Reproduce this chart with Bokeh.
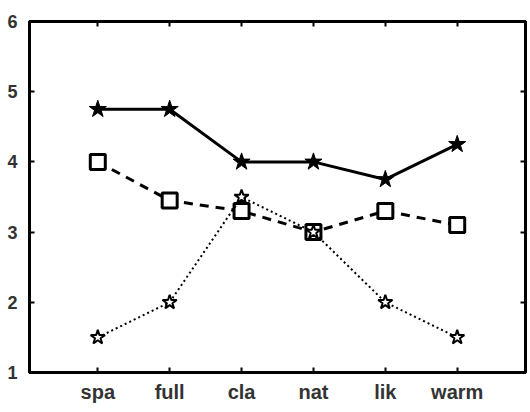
from bokeh.plotting import figure
from bokeh.models import FixedTicker, LinearAxis, Range1d
from bokeh.embed import file_html
from bokeh.resources import INLINE

categories = ["spa", "full", "cla", "nat", "lik", "warm"]
solid_vals = [4.75, 4.75, 4.0, 4.0, 3.75, 4.25]
dashed_vals = [4.0, 3.45, 3.3, 3.0, 3.3, 3.1]
dotted_vals = [1.5, 2.0, 3.5, 3.0, 2.0, 1.5]
y_ticks = [1, 2, 3, 4, 5, 6]

xs = list(range(1, len(categories) + 1))

p = figure(frame_width=496, frame_height=351,
           min_border_left=29, min_border_right=5, min_border_top=21, min_border_bottom=40,
           x_range=Range1d(0.05, 6.95), y_range=Range1d(1, 6),
           output_backend="svg", toolbar_location=None)
p.background_fill_color = "white"
p.border_fill_color = "white"
p.grid.visible = False
p.outline_line_color = "black"
p.outline_line_width = 3

font = "Liberation Sans"

def style_axis(ax, show_labels, size):
    ax.axis_line_color = "black"
    ax.axis_line_width = 3
    ax.major_tick_in = 5
    ax.major_tick_out = 0
    ax.major_tick_line_width = 2
    ax.minor_tick_line_color = None
    ax.major_label_text_font = font
    ax.major_label_text_font_style = "bold"
    ax.major_label_text_color = "#333333" if show_labels else None
    ax.major_label_text_font_size = size

p.xaxis.ticker = FixedTicker(ticks=xs)
p.xaxis.major_label_overrides = {x: c for x, c in zip(xs, categories)}
p.yaxis.ticker = FixedTicker(ticks=y_ticks)
style_axis(p.xaxis[0], True, "20px")
style_axis(p.yaxis[0], True, "18px")
p.xaxis.major_label_standoff = 8
p.yaxis.major_label_standoff = 12

top = LinearAxis(ticker=FixedTicker(ticks=xs))
style_axis(top, False, "0px")
p.add_layout(top, "above")
right = LinearAxis(ticker=FixedTicker(ticks=y_ticks))
style_axis(right, False, "0px")
p.add_layout(right, "right")
top.major_label_standoff = 0
right.major_label_standoff = 0

# solid series
p.line(xs, solid_vals, line_color="black", line_width=3)
p.scatter(xs, solid_vals, marker="star", size=18, fill_color="black", line_color="black", line_width=1)

# dashed series
p.line(xs, dashed_vals, line_color="black", line_width=3, line_dash="9 7")
p.scatter(xs, dashed_vals, marker="square", size=15, fill_color="white", line_color="black", line_width=3)

# dotted series
p.line(xs, dotted_vals, line_color="black", line_width=2, line_dash="2 3")
p.scatter(xs, dotted_vals, marker="star", size=15, fill_color="white", line_color="black", line_width=2)

open("out.html", "w").write(file_html(p, INLINE))
